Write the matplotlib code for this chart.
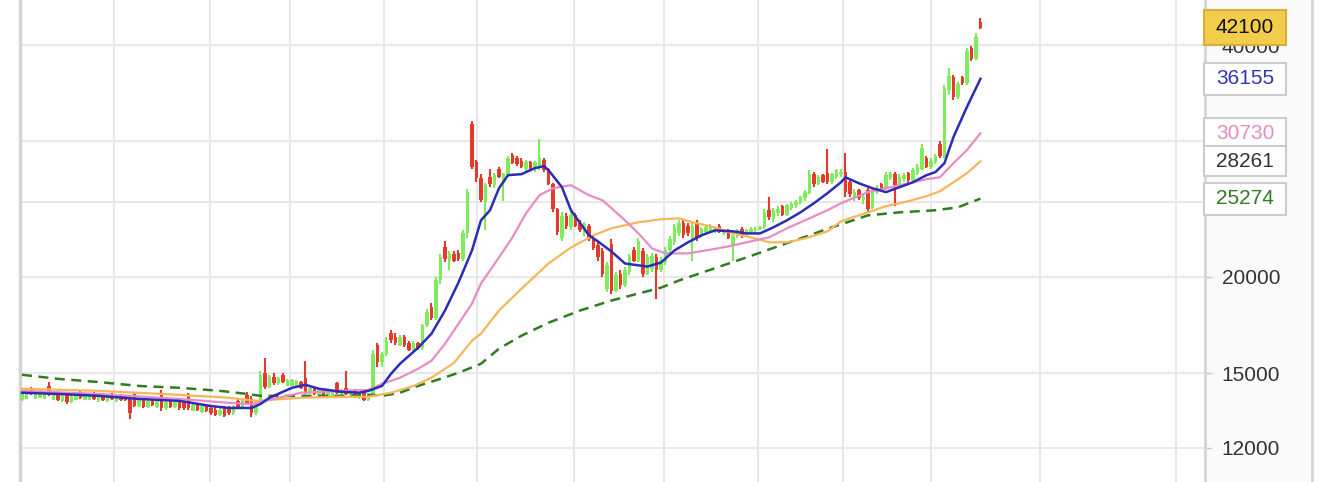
import matplotlib.pyplot as plt
from matplotlib.patches import Rectangle
from matplotlib.lines import Line2D
from matplotlib.ticker import FixedLocator, NullLocator

plt.rcParams['font.family'] = ['Liberation Sans', 'DejaVu Sans']

# Velas diarias (apertura, maximo, minimo, cierre)
opens = [13850, 13900, 14350, 13900, 13950, 13900, 14450, 13850, 14150, 13800,
         14100, 13750, 13850, 14200, 13850, 13850, 14150, 13800, 14100, 13800,
         14100, 13800, 14050, 14000, 13950, 14100, 13600, 13900, 13550, 13850,
         13550, 14150, 13500, 13800, 13550, 13750, 13750, 14100, 13400, 13700,
         13350, 13650, 13500, 13450, 13250, 13550, 13550, 13300, 13800, 13550,
         14050, 13900, 13300, 13800, 15000, 14400, 14850, 14550, 14900, 14450,
         14450, 14400, 14600, 14800, 14150, 14350, 14050, 14250, 13950, 14000,
         14550, 14000, 14350, 14050, 14250, 13950, 14200, 13850, 14050, 16300,
         15500, 15900, 16900, 16700, 16300, 16700, 16400, 16100, 16400, 16150,
         17300, 18300, 17700, 19800, 21900, 21000, 21400, 21500, 21100, 22800,
         31600, 28200, 26900, 25000, 27000, 26300, 27600, 26500, 27200, 28800,
         28500, 28300, 27600, 28200, 27600, 27800, 28400, 27600, 26400, 24500,
         22500, 24000, 23200, 24100, 23500, 22800, 23300, 22500, 22000, 21600,
         19300, 22100, 19200, 20200, 19500, 20300, 21700, 21000, 21600, 20200,
         20500, 21200, 20400, 20900, 21700, 22200, 22800, 23500, 23300, 22400,
         23400, 22600, 22900, 23000, 23000, 23300, 22800, 23000, 22000, 22600,
         23100, 22700, 22900, 23000, 23100, 23200, 24400, 23800, 24200, 24700,
         24100, 24600, 24800, 25000, 25300, 25700, 27200, 26400, 27100, 27300,
         26600, 27000, 27200, 27400, 26600, 25500, 25900, 25200, 25900, 24600,
         25800, 26400, 26000, 26900, 27200, 26300, 26800, 27300, 26700, 27300,
         27600, 28500, 27800, 28200, 29800, 28700, 35000, 36300, 34200, 36300,
         35700, 39600, 38400, 42900]
highs = [14150, 14200, 14380, 14200, 14250, 14200, 14600, 14150, 14200, 14050,
         14150, 14050, 14150, 14220, 14100, 14150, 14200, 14050, 14120, 14050,
         14120, 14050, 14100, 14050, 14000, 14200, 13900, 13950, 13850, 13900,
         13850, 14250, 13800, 13850, 13800, 13800, 13780, 14150, 13700, 13720,
         13650, 13680, 13550, 13550, 13500, 13600, 13580, 13650, 13900, 13900,
         14200, 14000, 13750, 15100, 15700, 14900, 15000, 14850, 15000, 14750,
         14750, 14700, 14650, 15550, 14400, 14400, 14300, 14300, 14250, 14300,
         14600, 14300, 15100, 14300, 14300, 14200, 14250, 14150, 16100, 16400,
         16000, 16700, 17050, 16900, 16800, 16800, 16500, 16500, 16450, 17400,
         18200, 18500, 20000, 21400, 22300, 21600, 21600, 21700, 23000, 26000,
         31900, 28400, 27200, 26500, 27600, 27300, 27800, 27300, 28700, 29000,
         28700, 28500, 28400, 28300, 28300, 30200, 28500, 27700, 26500, 24600,
         24300, 24200, 24300, 24200, 23700, 23600, 23400, 22700, 22200, 21800,
         20900, 22400, 20300, 20400, 20600, 21400, 21900, 22500, 21800, 21400,
         21500, 21400, 21200, 21900, 22600, 23400, 23700, 23700, 23500, 23500,
         23700, 23200, 23300, 23400, 23200, 23400, 23100, 23100, 22800, 23100,
         23200, 23100, 23200, 23200, 23300, 24500, 25400, 24600, 24700, 24800,
         24900, 25000, 25200, 25500, 25900, 27500, 27400, 27100, 27200, 29300,
         27300, 27600, 27600, 29000, 26800, 26000, 26000, 25600, 26100, 26200,
         26300, 26500, 27400, 27400, 27400, 27200, 27300, 27400, 27700, 28000,
         29800, 28700, 28500, 28900, 30000, 35500, 37300, 36600, 35800, 36500,
         39600, 39900, 41400, 43300]
lows = [13820, 13880, 14050, 13880, 13930, 13880, 14000, 13830, 13800, 13780,
        13700, 13730, 13830, 13900, 13830, 13830, 13850, 13780, 13800, 13780,
        13850, 13780, 13800, 13800, 13100, 13550, 13550, 13500, 13500, 13600,
        13530, 13400, 13450, 13500, 13500, 13450, 13450, 13450, 13380, 13400,
        13330, 13350, 13250, 13200, 13200, 13150, 13250, 13250, 13500, 13500,
        13650, 13150, 13250, 13700, 14300, 14350, 14500, 14500, 14550, 14430,
        14430, 14380, 14300, 14100, 14100, 14050, 14000, 14000, 13930, 13980,
        14100, 13980, 14050, 14000, 13950, 13900, 13800, 13800, 14000, 15300,
        15300, 15800, 16400, 16300, 16250, 16200, 16050, 16000, 16100, 16100,
        17200, 17600, 17600, 19600, 20900, 20400, 20900, 21000, 21000, 22500,
        27600, 26600, 25000, 23000, 26200, 26100, 26900, 25100, 27000, 28000,
        27900, 27700, 27300, 27500, 27400, 27500, 27400, 26300, 24300, 22700,
        22300, 23100, 23000, 23200, 22900, 22600, 22300, 21700, 21000, 20000,
        19100, 19000, 19100, 19300, 19400, 20100, 20900, 20900, 20000, 20100,
        20300, 18700, 20300, 20700, 21500, 22000, 22600, 22500, 22600, 21000,
        22300, 22500, 22800, 22900, 22800, 22800, 22700, 22400, 21000, 22500,
        22500, 22600, 22800, 22800, 23000, 23100, 23700, 23600, 24000, 24000,
        24000, 24400, 24600, 24900, 25100, 25600, 26200, 26300, 26500, 26400,
        26400, 26800, 27000, 25400, 25400, 25100, 25200, 24900, 24300, 24500,
        25600, 25900, 25900, 26700, 24700, 26200, 26600, 26500, 26500, 27100,
        27500, 27700, 27600, 28000, 28500, 28500, 34500, 33900, 34000, 35500,
        35500, 38100, 38200, 41900]
closes = [14100, 14150, 14100, 14150, 14200, 14150, 14050, 14100, 13850, 14000,
          13750, 14000, 14100, 13950, 14050, 14100, 13900, 14000, 13850, 14000,
          13900, 14000, 13850, 13850, 13300, 13600, 13850, 13550, 13800, 13650,
          13800, 13500, 13750, 13550, 13750, 13500, 13500, 13500, 13650, 13450,
          13600, 13400, 13300, 13250, 13450, 13200, 13300, 13600, 13550, 13850,
          13700, 13300, 13700, 14900, 14400, 14850, 14550, 14800, 14600, 14700,
          14700, 14650, 14350, 14150, 14350, 14100, 14250, 14050, 14200, 14250,
          14150, 14250, 14100, 14250, 14000, 14150, 13850, 14100, 15900, 15500,
          15900, 16500, 16550, 16400, 16700, 16300, 16100, 16400, 16150, 17300,
          18000, 17700, 19800, 21200, 21100, 21400, 21000, 21100, 22800, 25800,
          27800, 26900, 25200, 26300, 26400, 27100, 27000, 27200, 28500, 28100,
          28000, 27800, 28200, 27600, 28200, 28500, 27500, 26400, 24500, 22900,
          24000, 23300, 24100, 23300, 23000, 23400, 22400, 21800, 21200, 20200,
          20700, 19200, 20100, 19500, 20400, 21200, 21000, 22300, 20200, 21200,
          21300, 20400, 21000, 21700, 22400, 23200, 23500, 22700, 22800, 23300,
          22500, 23100, 23200, 23300, 23100, 22900, 23000, 22500, 22600, 23000,
          22600, 23000, 23100, 23100, 23200, 24300, 23900, 24400, 24500, 24100,
          24800, 24900, 25000, 25400, 25800, 27200, 26400, 27000, 26600, 26600,
          27200, 27500, 27400, 25800, 25600, 25800, 25300, 25400, 24500, 26000,
          26100, 26000, 27100, 27300, 26300, 27000, 27100, 26700, 27500, 27800,
          29400, 27800, 28300, 28700, 28700, 35200, 36500, 34200, 35600, 35700,
          39300, 38400, 41000, 42100]

# Medias moviles (indice de vela, valor)
ma_blue_idx = [0, 8, 17, 26, 35, 42, 46, 51, 53, 55, 60, 63, 66, 71, 75, 77, 80, 82, 84,
               88, 91, 94, 97, 100, 102, 104, 106, 108, 111, 114, 116, 117, 120, 122,
               126, 128, 131, 134, 139, 142, 145, 148, 151, 154, 158, 161, 164, 167,
               170, 173, 176, 179, 182, 183, 186, 189, 192, 195, 198, 201, 203, 205,
               207, 210, 213]
ma_blue = [14150, 14100, 14020, 13890, 13810, 13600, 13520, 13520, 13680, 13940, 14360,
           14490, 14320, 14190, 14150, 14230, 14440, 14970, 15430, 16180, 16880, 18090,
           19670, 21650, 23690, 24410, 26070, 27110, 27190, 27690, 27850, 27520, 26150,
           24410, 22650, 22240, 21580, 20820, 20630, 20880, 21650, 22180, 22650, 22990,
           22920, 22780, 22780, 23200, 23690, 24260, 24930, 25690, 26540, 26940, 26460,
           26070, 25770, 26150, 26540, 27110, 27360, 28100, 30380, 33250, 36155]
ma_pink_idx = [0, 17, 35, 46, 51, 54, 62, 71, 77, 80, 84, 88, 91, 94, 97, 100, 102, 106,
               109, 112, 115, 118, 122, 126, 129, 131, 134, 137, 140, 143, 148, 152, 157,
               161, 166, 170, 174, 179, 182, 188, 192, 197, 201, 204, 207, 210, 213]
ma_pink = [14230, 14100, 13890, 13730, 13680, 13810, 14150, 14230, 14270, 14530, 14800,
           15200, 15570, 16380, 17390, 18470, 19610, 21200, 22510, 24190, 25530, 26070,
           26310, 25530, 25150, 24560, 23690, 22780, 21780, 21460, 21460, 21650, 21910,
           22180, 22510, 23130, 23690, 24410, 24930, 25770, 26070, 26460, 26780, 26940,
           28100, 29220, 30730]
ma_orange_idx = [0, 17, 35, 46, 52, 62, 71, 77, 82, 87, 91, 96, 100, 102, 106, 111, 117,
                 122, 127, 131, 137, 142, 146, 149, 154, 158, 163, 166, 170, 174, 179, 182,
                 188, 192, 197, 201, 204, 207, 210, 213]
ma_orange = [14320, 14230, 14060, 13940, 13810, 13940, 13980, 13980, 14150, 14440, 14800,
             15470, 16530, 16880, 18090, 19310, 20820, 21840, 22650, 23130, 23550, 23760,
             23830, 23550, 23200, 22780, 22440, 22180, 22180, 22440, 22920, 23620, 24260,
             24710, 25080, 25460, 25840, 26540, 27280, 28261]
ma_green_idx = [0, 8, 17, 26, 35, 44, 50, 53, 62, 71, 78, 80, 84, 88, 93, 97, 102, 106,
                111, 117, 124, 131, 142, 146, 161, 180, 188, 195, 203, 208, 213]
ma_green = [14930, 14750, 14610, 14440, 14360, 14230, 14100, 14020, 14020, 14020, 14060,
            14020, 14150, 14440, 14750, 15020, 15430, 16140, 16780, 17440, 18090, 18640,
            19370, 19790, 21200, 23200, 24040, 24260, 24410, 24630, 25274]

yticks = [12000, 15000, 20000, 25000, 30000, 40000]
ytick_labels = ['12000', '15000', '20000', '', '', '40000']
month_breaks = [20.5, 41.8, 59.5, 80.5, 101.1, 122.7, 142.7, 163.5, 182.5, 202, 226.2, 256.4]

W, H = 1331, 482
fig = plt.figure(figsize=(W / 100, H / 100), dpi=100)
ax = fig.add_axes([20 / W, 0, (1205 - 20) / W, 1])

# panel derecho de etiquetas
fig.add_artist(Rectangle((1205 / W, 0), (1312 - 1205) / W, 1, transform=fig.transFigure,
                         color='#fafafa', zorder=-1))
fig.add_artist(Line2D([1312 / W, 1312 / W], [0, 1], transform=fig.transFigure,
                      color='#d6d6d6', lw=2))

x = list(range(len(closes)))
up_col = '#7ded5c'
dn_col = '#e5392c'
cols = [up_col if c >= o else dn_col for o, c in zip(opens, closes)]
ax.vlines(x, lows, highs, colors=cols, lw=1.5, zorder=3)
ax.bar(x, [abs(c - o) for o, c in zip(opens, closes)], bottom=[min(o, c) for o, c in zip(opens, closes)],
       width=0.8, color=cols, zorder=3)

ax.plot(ma_green_idx, ma_green, color='#2f7d1e', lw=1.8, dashes=(4, 2.6), zorder=4)
ax.plot(ma_orange_idx, ma_orange, color='#f5b75a', lw=1.6, zorder=4)
ax.plot(ma_pink_idx, ma_pink, color='#e88cc4', lw=1.6, zorder=4)
ax.plot(ma_blue_idx, ma_blue, color='#2b2db8', lw=1.8, zorder=4)

ax.set_yscale('log')
ax.set_ylim(10837, 45758)
ax.set_xlim(-0.444, 262.9)
ax.yaxis.set_major_locator(FixedLocator(yticks))
ax.yaxis.set_minor_locator(NullLocator())
ax.set_yticklabels(ytick_labels)
ax.yaxis.tick_right()
ax.tick_params(axis='y', length=5, width=1, color='#c8c8c8', pad=7, labelsize=15,
               labelcolor='#333333')
ax.set_xticks([])
ax.grid(axis='y', color='#e8e8e8', lw=1.5, zorder=0)
for m in month_breaks:
    ax.axvline(m, color='#e8e8e8', lw=1.5, zorder=0)
for s in ['top', 'bottom']:
    ax.spines[s].set_visible(False)
ax.spines['left'].set_color('#d4d4d4')
ax.spines['left'].set_linewidth(2.5)
ax.spines['right'].set_color('#d4d4d4')
ax.spines['right'].set_linewidth(2)

# etiquetas de ultimo valor
labels = [(closes[-1], '#111111', '#f2cd4c', '#d9ad3c', 35),
          (ma_blue[-1], '#3333b8', 'white', '#cccccc', 32),
          (ma_pink[-1], '#e58cc0', 'white', '#cccccc', 30),
          (ma_orange[-1], '#333333', 'white', '#cccccc', 30),
          (ma_green[-1], '#2f7d1e', 'white', '#cccccc', 32)]
for val, tc, fc, ec, bh in labels:
    yp = ax.transData.transform((0, val))[1]
    fig.add_artist(Rectangle((1204 / W, (yp - bh / 2) / H), 82 / W, bh / H,
                             transform=fig.transFigure, facecolor=fc, edgecolor=ec,
                             lw=1.5, zorder=5))
    fig.text(1245 / W, yp / H, str(val), ha='center', va='center', fontsize=15,
             color=tc, zorder=6)

fig.savefig('out.png', dpi=100)
